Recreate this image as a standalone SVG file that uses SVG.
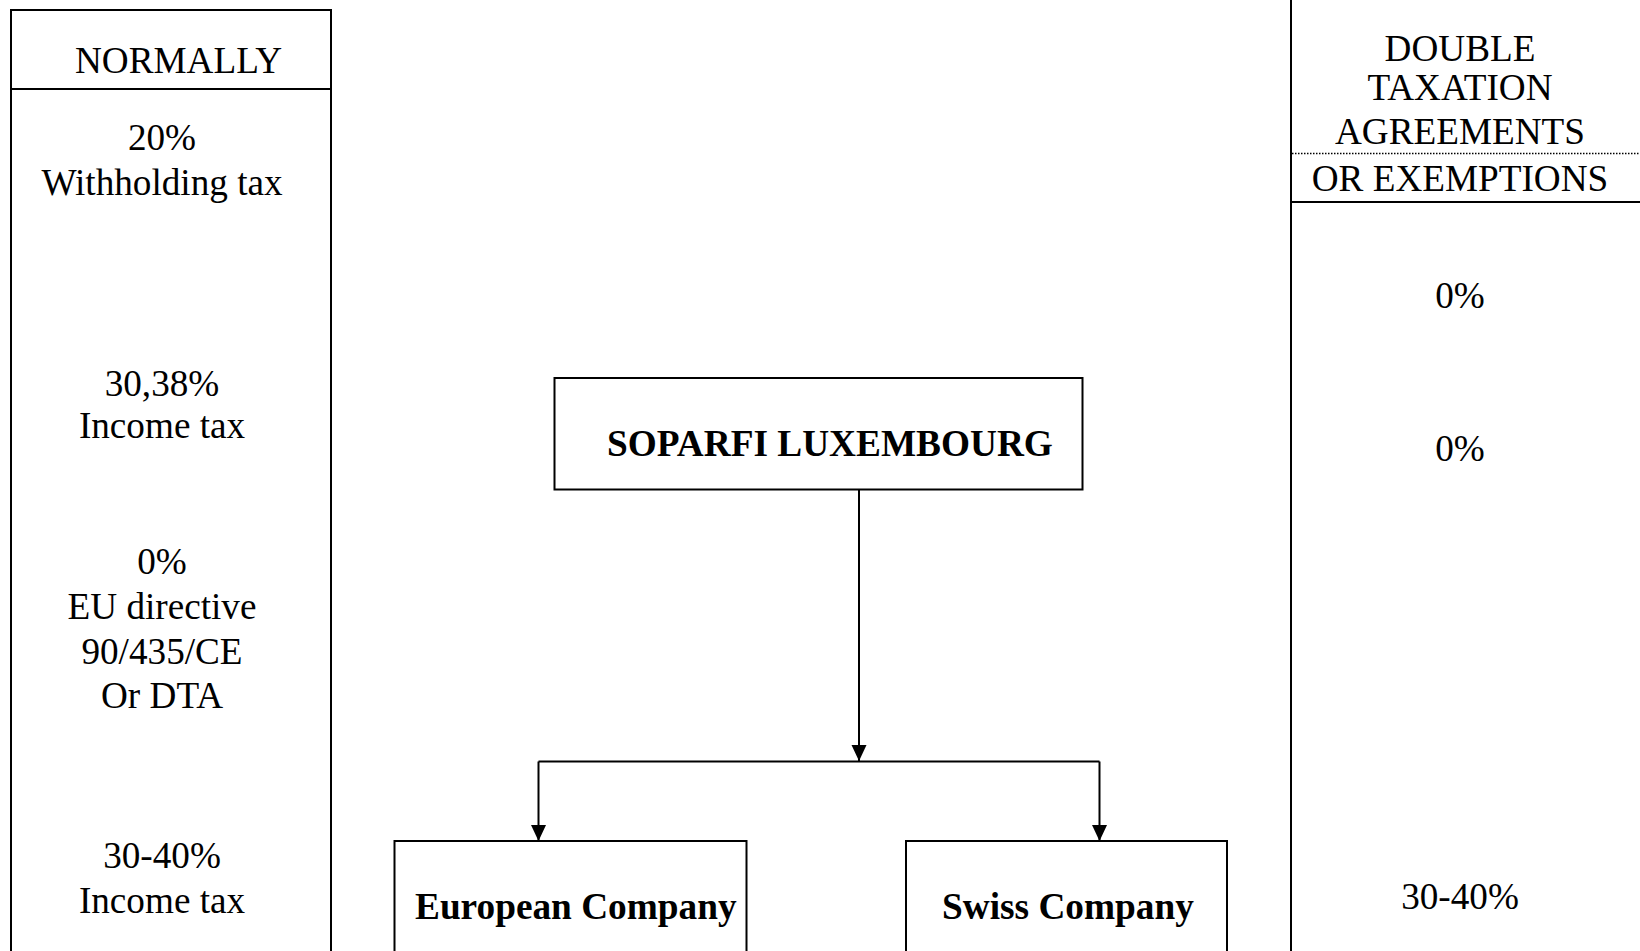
<svg xmlns="http://www.w3.org/2000/svg" width="1640" height="951" viewBox="0 0 1640 951">
<style>
.ln{stroke:#000;stroke-width:2;fill:none}
.bx{stroke:#000;stroke-width:2;fill:#fff}
.t{font-family:"Liberation Serif","Times New Roman",serif;font-size:37.2px;fill:#000;text-anchor:middle}
.b{font-family:"Liberation Serif","Times New Roman",serif;font-size:37.3px;font-weight:bold;fill:#000}
</style>
<defs>
<marker id="arr" markerUnits="userSpaceOnUse" markerWidth="16" markerHeight="16" refX="16" refY="7.5" orient="auto">
<path d="M0,0 L16,7.5 L0,15 Z" fill="#000"/>
</marker>
</defs>
<rect width="1640" height="951" fill="#fff"/>
<g id="left-column">
<rect class="ln" x="11" y="10" width="320" height="960"/>
<line class="ln" x1="11" y1="89" x2="331" y2="89"/>
<text class="t" x="178.5" y="73">NORMALLY</text>
<text class="t" x="162" y="150">20%</text>
<text class="t" x="162" y="195">Withholding tax</text>
<text class="t" x="162" y="396">30,38%</text>
<text class="t" x="162" y="438">Income tax</text>
<text class="t" x="162" y="574">0%</text>
<text class="t" x="162" y="619">EU directive</text>
<text class="t" x="162" y="664">90/435/CE</text>
<text class="t" x="162" y="708">Or DTA</text>
<text class="t" x="162" y="868">30-40%</text>
<text class="t" x="162" y="913">Income tax</text>
</g>
<g id="right-column">
<line class="ln" x1="1291" y1="0" x2="1291" y2="951"/>
<line x1="1292" y1="153.5" x2="1640" y2="153.5" stroke="#000" stroke-width="1.3" stroke-dasharray="1.5,1.5"/>
<line class="ln" x1="1291" y1="202" x2="1640" y2="202"/>
<text class="t" x="1460" y="61">DOUBLE</text>
<text class="t" x="1460" y="100">TAXATION</text>
<text class="t" x="1460" y="144">AGREEMENTS</text>
<text class="t" x="1460" y="191">OR EXEMPTIONS</text>
<text class="t" x="1460" y="308">0%</text>
<text class="t" x="1460" y="461">0%</text>
<text class="t" x="1460" y="909">30-40%</text>
</g>
<g id="soparfi">
<rect class="bx" x="554.5" y="378" width="528" height="111.5"/>
<text class="b" x="607" y="456">SOPARFI LUXEMBOURG</text>
</g>
<g id="european">
<rect class="bx" x="394.5" y="841" width="352" height="130"/>
<text class="b" x="415" y="919">European Company</text>
</g>
<g id="swiss">
<rect class="bx" x="906" y="841" width="321" height="130"/>
<text class="b" x="942" y="919">Swiss Company</text>
</g>
<g id="connectors">
<line class="ln" x1="859" y1="489.5" x2="859" y2="761" marker-end="url(#arr)"/>
<line class="ln" x1="538.5" y1="761.5" x2="1099.5" y2="761.5"/>
<line class="ln" x1="538.5" y1="761.5" x2="538.5" y2="841" marker-end="url(#arr)"/>
<line class="ln" x1="1099.5" y1="761.5" x2="1099.5" y2="841" marker-end="url(#arr)"/>
</g>
</svg>
